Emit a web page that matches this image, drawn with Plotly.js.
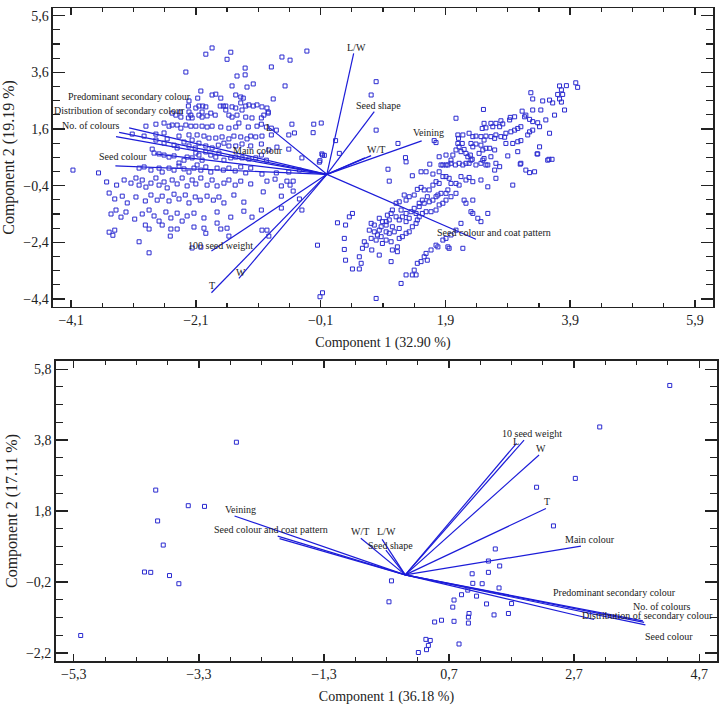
<!DOCTYPE html>
<html><head><meta charset="utf-8">
<script src="https://cdn.plot.ly/plotly-3.0.1.min.js"></script>
<style>html,body{margin:0;padding:0;background:#fff}</style>
</head><body>
<div id="chart" style="width:726px;height:714px"></div>
<script>
// ---------- Top biplot (Component 1 32.90 %, Component 2 19.19 %) ----------
const topAxisTitles = ["Component 1 (32.90 %)", "Component 2 (19.19 %)"];
const topVarNames = ["L/W","Seed shape","Veining","W/T","W/T (2)","Seed colour and coat pattern","100 seed weight","W","T","Seed colour","Predominant secondary colour","Distribution of secondary colour","No. of colours","Main colour","L"];
const topVarX = [0.43, 0.76, 1.52, 0.71, 0.61, 2.39, -1.85, -1.41, -1.85, -3.39, -3.17, -3.33, -3.38, -2.75, -0.91];
const topVarY = [4.27, 2.21, 1.18, 0.66, 0.58, -2.29, -2.71, -3.67, -4.18, 0.30, 1.64, 1.48, 1.33, 0.72, 1.63];

const topScores = [
[-1.84,4.46],[-1.94,4.24],[-1.54,4.31],[-1.60,4.06],[-0.32,4.35],[-0.72,4.14],[-0.59,4.03],[-0.89,3.79],[-1.31,3.75],[-2.26,3.61],[-1.44,3.47],[-1.31,3.51],[-1.52,3.12],[-1.18,3.19],[-1.28,3.08],[-0.67,3.12],[-2.02,2.94],[-1.84,2.80],[-1.78,2.83],[-1.70,2.69],[-2.07,2.69],[-2.21,2.59],[-1.46,2.80],[-1.38,2.73],[-1.34,2.69],[-0.86,2.66],
[-2.22,2.41],[-2.05,2.41],[-2.10,2.34],[-1.99,2.41],[-1.94,2.38],[-2.00,2.20],[-1.71,2.41],[-1.66,2.41],[-1.62,2.41],[-1.52,2.38],[-1.46,2.34],[-1.38,2.52],[-1.30,2.41],[-1.25,2.45],[-1.18,2.41],[-1.12,2.45],[-1.04,2.38],[-0.96,2.34],[-0.94,2.20],
[-2.35,2.20],[-2.34,2.02],[-2.42,2.09],[-2.48,2.16],[-2.21,2.20],[-2.18,2.09],[-2.22,1.99],[-2.16,1.99],[-2.05,2.09],[-2.00,2.02],[-1.92,2.06],[-1.86,2.16],[-1.79,2.09],[-1.62,2.27],[-1.57,2.09],[-1.52,2.02],[-1.44,2.09],[-1.36,2.27],[-1.30,2.02],[-1.20,1.99],[-1.05,1.99],[-1.01,2.09],[-0.94,2.16],
[-2.90,1.70],[-2.74,1.77],[-2.61,1.81],[-2.53,1.70],[-2.48,1.74],[-2.40,1.74],[-2.34,1.63],[-2.26,1.74],[-2.18,1.70],[-2.10,1.70],[-2.00,1.70],[-1.92,1.67],[-1.84,1.70],[-1.70,1.67],[-1.57,1.63],[-1.46,1.67],[-1.41,1.81],[-1.26,1.67],[-1.12,1.70],[-1.05,1.77],[-0.97,1.67],[-0.89,1.63],[-0.56,1.77],[-0.21,1.77],[-0.09,1.81],
[-3.12,1.42],[-2.93,1.35],[-2.74,1.42],[-2.61,1.46],[-2.56,1.25],[-2.37,1.35],[-2.21,1.39],[-2.16,1.21],[-2.08,1.39],[-1.97,1.35],[-1.89,1.28],[-1.78,1.28],[-1.68,1.32],[-1.57,1.25],[-1.49,1.35],[-1.38,1.32],[-1.28,1.25],[-1.22,1.35],[-1.14,1.32],[-1.04,1.35],[-0.81,1.56],[-0.89,1.39],[-0.61,1.39],[-0.52,1.46],
[-2.74,1.21],[-2.61,1.10],[-2.45,1.03],[-2.40,0.93],[-2.29,1.14],[-2.21,1.00],[-2.11,0.93],[-2.05,1.10],[-1.94,1.00],[-1.84,0.93],[-1.74,1.03],[-1.65,1.10],[-1.57,1.00],[-1.46,1.00],[-1.36,1.07],[-1.22,1.00],[-1.05,1.07],[-0.93,0.86],[-0.80,0.96],[-0.61,0.89],
[-2.80,0.89],[-2.77,0.75],[-2.69,0.72],[-2.61,0.68],[-2.53,0.61],[-2.45,0.65],[-2.37,0.40],[-2.29,0.50],[-2.24,0.61],[-2.16,0.58],[-2.10,0.75],[-2.05,0.68],[-2.00,0.50],[-1.94,0.79],[-1.86,0.68],[-1.78,0.61],[-1.73,0.75],[-1.65,0.50],[-1.54,0.58],[-1.46,0.61],[-1.36,0.58],[-1.25,0.54],[-1.14,0.58],[-1.05,0.68],[-0.97,0.50],[-0.40,0.58],[-0.07,0.68],[-0.12,0.43],
[-4.07,0.15],[-3.66,0.05],[-3.01,0.22],[-2.93,0.26],[-2.82,0.15],[-2.69,0.22],[-2.64,0.08],[-2.53,0.22],[-2.45,0.15],[-2.37,0.29],[-2.29,0.19],[-2.21,0.08],[-2.13,0.22],[-2.08,0.33],[-2.02,0.15],[-1.94,0.26],[-1.86,0.08],[-1.76,0.22],[-1.66,0.15],[-1.57,0.22],[-1.47,0.12],[-1.38,0.26],[-1.30,0.05],[-1.22,0.22],[-1.04,0.01],[-0.81,0.05],[-0.61,0.08],[-0.44,0.15],
[-3.53,-0.27],[-3.37,-0.38],[-3.25,-0.20],[-3.14,-0.31],[-3.06,-0.13],[-3.01,-0.38],[-2.96,-0.20],[-2.90,-0.45],[-2.82,-0.31],[-2.74,-0.13],[-2.69,-0.38],[-2.61,-0.27],[-2.56,-0.48],[-2.48,-0.20],[-2.40,-0.34],[-2.32,-0.13],[-2.24,-0.41],[-2.16,-0.20],[-2.10,-0.34],[-2.02,-0.13],[-1.92,-0.38],[-1.84,-0.20],[-1.76,-0.41],[-1.65,-0.31],[-1.57,-0.20],[-1.47,-0.38],[-1.38,-0.24],[-1.22,-0.34],[-0.96,-0.24],[-0.83,-0.17],[-0.73,-0.41],[-0.64,-0.24],[-0.59,-0.38],[-0.54,-0.24],
[-3.49,-0.66],[-3.40,-0.87],[-3.28,-0.77],[-3.20,-1.01],[-3.06,-0.80],[-2.91,-0.94],[-2.82,-0.73],[-2.72,-0.91],[-2.64,-0.77],[-2.53,-0.94],[-2.45,-0.70],[-2.37,-0.87],[-2.27,-0.73],[-2.21,-1.01],[-2.11,-0.80],[-2.03,-0.91],[-1.92,-0.77],[-1.82,-0.91],[-1.73,-0.80],[-1.65,-1.01],[-1.49,-0.73],[-1.33,-0.98],[-1.02,-0.62],[-0.73,-0.77],[-0.54,-0.59],[-0.44,-0.87],
[-3.46,-1.40],[-3.38,-1.26],[-3.30,-1.51],[-3.22,-1.33],[-3.08,-1.58],[-2.96,-1.40],[-2.85,-1.26],[-2.77,-1.47],[-2.69,-1.65],[-2.58,-1.33],[-2.50,-1.54],[-2.40,-1.37],[-2.32,-1.65],[-2.24,-1.47],[-2.13,-1.37],[-1.97,-1.54],[-1.76,-1.33],[-1.54,-1.51],[-1.33,-1.30],[-1.20,-1.51],[-1.05,-1.26],[-0.73,-1.19],[-0.40,-1.26],
[-3.49,-2.04],[-3.40,-1.97],[-3.43,-2.15],[-2.91,-1.79],[-2.85,-1.93],[-2.64,-1.79],[-2.50,-1.93],[-2.40,-1.93],[-2.13,-1.86],[-1.97,-1.90],[-1.76,-1.72],[-1.70,-1.93],[-1.60,-1.90],[-1.94,-2.08],[-1.57,-2.18],[-1.04,-1.97],[-0.96,-1.97],[-0.93,-2.18],[-2.51,-2.18],[-3.01,-2.38],[-2.85,-2.77],[-2.16,-2.60],[-2.02,-2.57],
[-0.15,-2.50],[-0.11,-4.32],[-0.07,-4.18],[-0.22,1.47],[0.14,1.19],[0.20,0.74],[-0.08,0.72],[-0.04,0.67],[-0.11,0.48],[0.79,3.27],[0.71,2.80],[0.79,1.56],[1.14,1.09],[1.26,0.59],[1.27,0.44],[0.79,-4.38],
[1.72,1.19],[1.75,1.12],[2.07,1.98],[2.51,2.29],[3.27,2.88],[3.73,3.12],[3.84,3.13],[3.76,2.98],[3.78,2.82],[3.70,2.82],[3.99,3.23],[4.02,3.07],[3.57,2.62],[3.73,2.66],[3.76,2.55],[3.62,2.52],[3.46,2.59],[3.30,2.66],[3.81,2.27],[3.65,2.09],[3.43,2.27],[3.30,2.27],[3.13,2.23],[3.19,2.09],[2.94,2.01],[3.01,2.03],[2.93,1.92],[2.79,1.89],[2.82,1.78],[2.77,1.68],[2.71,1.80],[2.63,1.80],[2.66,1.68],[2.52,1.80],[2.55,1.64],[2.49,1.62],[3.17,2.03],[3.25,1.94],[3.30,1.86],[3.38,1.82],[3.51,1.92],[3.41,1.68],[3.30,1.56],[3.25,1.50],[3.22,1.39],[3.11,1.68],[3.06,1.62],[3.01,1.56],[2.95,1.50],[2.87,1.45],[2.85,1.31],[2.79,1.33],[2.71,1.39],[2.69,1.27],[2.63,1.33],[2.55,1.35],[2.52,1.21],[2.47,1.33],[2.39,1.35],[2.34,1.33],[2.28,1.45],[2.31,1.09],[2.39,1.07],[2.47,1.03],[2.55,0.92],[2.61,0.92],[2.69,0.86],[2.87,1.09],[2.98,1.09],[3.06,1.15],[3.11,1.19],[3.41,0.97],[3.57,1.45],[3.56,0.53],[3.61,0.53],[3.37,0.72],[3.10,0.36],[2.90,0.65],[2.10,1.39],[2.11,1.27],[2.18,1.39],[2.17,1.09],[2.12,0.97],[2.07,0.86],[2.15,0.80],[2.20,0.88],[2.23,0.74],[2.26,0.62],[2.30,0.68],[2.33,0.53],[2.28,0.39],[2.23,0.39],[2.18,0.33],[2.12,0.39],[2.02,0.68],[1.99,0.39],[1.91,0.33],[1.83,0.33],[1.80,0.62],[1.91,0.68],[1.99,0.50],[2.10,1.09],[2.34,0.97],[2.44,0.74],[2.50,0.86],[2.52,0.56],[2.63,0.62],[2.71,0.39],[2.47,0.39],[2.39,0.33],[2.58,0.33],[2.77,0.27],
[0.98,0.18],[1.00,-0.24],[1.37,-0.05],[1.65,0.36],[1.51,0.09],[1.59,0.09],[1.70,0.01],[1.80,0.09],[1.86,0.33],[1.94,0.33],[2.06,0.33],[2.31,0.50],[2.50,0.50],[2.55,0.33],[2.69,0.15],[2.71,-0.14],[3.06,0.80],[3.11,0.39],[3.19,0.15],[3.25,0.06],[3.33,0.09],[3.38,0.72],[3.54,0.50],[2.98,-0.38],[2.58,-0.44],[2.47,-0.20],[2.34,-0.26],[2.28,-0.11],[2.23,-0.20],[2.15,-0.08],[2.12,-0.38],[2.07,-0.32],[1.99,-0.32],[1.96,-0.14],[1.91,-0.08],[1.86,-0.08],[1.80,-0.32],[1.75,-0.26],[1.70,-0.38],[1.64,-0.55],[1.56,-0.55],[1.51,-0.46],[1.45,-0.53],[1.40,-0.73],[1.32,-0.79],[1.27,-0.91],[1.24,-0.73],[1.16,-0.97],[1.11,-1.02],[1.05,-1.26],[1.03,-1.38],[0.97,-1.44],[1.00,-1.61],[0.95,-1.67],[0.87,-1.85],[0.84,-1.97],[0.76,-1.79],[0.71,-1.73],[0.68,-1.97],[0.71,-2.26],[0.79,-2.32],[0.87,-2.20],[0.89,-2.44],[0.95,-2.32],[1.03,-2.38],[1.05,-2.67],[1.13,-2.56],[1.16,-2.26],[1.21,-2.20],[1.27,-2.08],[1.32,-2.03],[1.37,-1.85],[1.43,-1.73],[1.45,-1.61],[1.48,-1.50],[1.53,-1.38],[1.59,-1.32],[1.67,-1.32],[1.75,-1.26],[1.80,-1.08],[1.86,-1.02],[1.91,-0.91],[1.99,-0.79],[2.07,-0.67],[2.20,-0.91],[2.23,-1.02],[2.34,-0.91],[2.31,-1.32],[2.34,-1.38],[2.42,-1.55],[2.47,-1.67],[2.58,-1.38],[2.15,-1.73],[2.07,-1.97],[1.99,-2.14],[1.91,-2.26],[1.86,-2.32],[1.75,-2.50],[1.78,-2.56],[1.67,-2.67],[1.59,-2.79],[1.56,-2.91],[1.61,-3.03],[1.51,-3.08],[1.45,-3.14],[1.40,-3.38],[1.43,-3.55],[1.37,-3.55],[1.27,-3.55],[1.19,-3.85],[1.13,-2.73],[1.03,-3.08],[0.84,-2.85],[0.72,-2.67],[0.63,-2.50],[0.57,-2.61],[0.52,-2.91],[0.55,-3.14],[0.41,-3.34],[0.52,-3.34],[0.30,-3.03],[0.28,-2.65],[0.28,-2.26],[0.30,-1.79],[0.17,-1.71],[0.36,-1.50],[0.41,-1.38],[0.84,-1.55],[0.89,-1.67],[0.95,-1.79],[1.05,-1.85],[1.16,-1.61],[1.21,-1.50],[1.27,-1.38],[1.35,-1.32],[1.40,-1.20],[1.48,-1.14],[1.56,-1.02],[1.64,-0.97],[1.70,-0.91],[1.75,-0.79],[1.78,-0.73],[1.83,-0.67],[1.91,-0.67],[1.94,-0.55],[1.61,-0.79],[1.53,-0.91],[1.48,-1.02],[2.18,-2.61],[1.94,-2.56],[1.96,-2.61],[1.11,-1.50],[1.16,-1.91],[1.27,-1.67],[1.32,-1.55],[1.19,-1.26],[1.43,-1.38],[1.00,-2.08],[1.08,-2.03],[0.95,-2.03],[0.81,-2.14],[0.76,-2.03],[0.60,-2.38]
];

// ---------- Bottom biplot (Component 1 36.18 %, Component 2 17.11 %) ----------
const botAxisTitles = ["Component 1 (36.18 %)", "Component 2 (17.11 %)"];
const botVarNames = ["Veining","Seed colour and coat pattern","Seed colour and coat pattern (2)","W/T","L/W","Seed shape","10 seed weight","L","W","T","Main colour","Seed colour","Predominant secondary colour","No. of colours","Distribution of secondary colour"];
const botVarX = [-2.73, -2.04, -2.01, -0.71, -0.37, -0.31, 1.90, 1.78, 2.14, 2.25, 2.81, 3.02, 3.80, 3.82, 3.84];
const botVarY = [1.66, 1.09, 1.02, 1.03, 1.00, 0.70, 3.80, 3.71, 3.38, 1.87, 0.81, -1.26, -1.30, -1.34, -1.41];

const botScores = [
[-2.70,3.74],[-3.99,2.39],[-3.47,1.95],[-3.21,1.93],[-3.96,1.52],[-3.87,0.84],[-4.17,0.08],[-4.07,0.07],[-3.77,-0.02],[-3.62,-0.25],[-5.19,-1.71],
[4.23,5.34],[3.11,4.17],[2.72,2.72],[2.10,2.47],[2.37,1.38],[1.44,0.73],[1.33,0.39],[1.51,0.25],[1.33,0.07],[1.07,0.03],[-0.22,-0.17],[1.08,-0.24],[1.23,-0.25],[1.50,-0.37],[1.00,-0.43],[0.90,-0.56],[1.14,-0.60],[0.78,-0.71],[1.30,-0.82],[1.70,-0.81],[-0.26,-0.76],[0.76,-0.91],[1.02,-1.09],[1.01,-1.19],[1.42,-1.13],[1.65,-1.09],[0.47,-1.33],[0.58,-1.28],[0.78,-1.31],[1.01,-1.36],[0.33,-1.82],[0.40,-1.85],[0.37,-1.99],[0.34,-2.11],[0.21,-2.19],[0.86,-1.95]
];

// ---------- label placement (layout only) ----------
const topLabelPos = {
  "L/W":[0.48,4.49], "Seed shape":[0.82,2.44], "Veining":[1.63,1.46], "W/T":[0.78,0.89],
  "Seed colour and coat pattern":[2.68,-2.06], "100 seed weight":[-1.70,-2.50], "W":[-1.37,-3.47], "T":[-1.84,-3.91],
  "Seed colour":[-3.27,0.64], "No. of colours":[-3.78,1.74], "Distribution of secondary colour":[-3.33,2.27],
  "Predominant secondary colour":[-3.16,2.74], "Main colour":[-1.11,0.83], "L":[-0.93,1.66]
};
const botLabelPos = {
  "Veining":[-2.63,1.85], "Seed colour and coat pattern":[-2.14,1.29], "W/T":[-0.73,1.21], "L/W":[-0.30,1.21],
  "Seed shape":[-0.23,0.84], "10 seed weight":[2.03,3.99], "L":[1.77,3.76], "W":[2.17,3.57], "T":[2.26,2.06],
  "Main colour":[2.95,1.00], "Predominant secondary colour":[3.34,-0.50], "No. of colours":[4.11,-0.90],
  "Distribution of secondary colour":[3.87,-1.15], "Seed colour":[4.22,-1.73]
};

const BLUE = '#1c1cd8';
const SERIF = '"Liberation Serif", "DejaVu Serif", serif';
const INK = '#222';

function vectorTrace(vx, vy, xa, ya) {
  const x = [], y = [];
  for (let i = 0; i < vx.length; i++) { x.push(0, vx[i], null); y.push(0, vy[i], null); }
  return {type:'scatter', mode:'lines', x, y, xaxis:xa, yaxis:ya, line:{color:BLUE, width:1.2}, hoverinfo:'skip', showlegend:false};
}
function scoreTrace(pts, xa, ya) {
  return {type:'scatter', mode:'markers', x:pts.map(p=>p[0]), y:pts.map(p=>p[1]), xaxis:xa, yaxis:ya,
    marker:{symbol:'square-open', size:4, color:'#2a2ad0', line:{width:1}}, hoverinfo:'skip', showlegend:false};
}
function axis(domain, range, tick0, titleText, standoff, isY) {
  return {
    domain, range, tick0, dtick:2, tickformat:'.1f', ticks:'inside', ticklen: isY ? 12 : 7, tickwidth:1.3,
    tickcolor:INK, showline:true, linecolor:INK, linewidth:1.5, mirror:'ticks', showgrid:false, zeroline:false,
    minor:{tick0, dtick:0.5, ticks:'inside', ticklen: isY ? 7 : 4, tickwidth:1.1, tickcolor:INK, showgrid:false},
    tickfont:{family:SERIF, size:14, color:INK},
    title:{text:titleText, font:{family:SERIF, size: isY ? 16 : 14, color:INK}, standoff},
    fixedrange:true
  };
}
function labels(pos, xref, yref) {
  return Object.keys(pos).map(k => ({x:pos[k][0], y:pos[k][1], xref, yref, text:k, showarrow:false,
    xanchor:'center', yanchor:'middle', font:{family:SERIF, size:10, color:INK}}));
}

const data = [
  vectorTrace(topVarX, topVarY, 'x', 'y'),
  scoreTrace(topScores, 'x', 'y'),
  vectorTrace(botVarX, botVarY, 'x2', 'y2'),
  scoreTrace(botScores, 'x2', 'y2')
];

const layout = {
  width:726, height:714, margin:{l:0, r:0, t:0, b:0}, paper_bgcolor:'#fff', plot_bgcolor:'#fff',
  separators:',.', showlegend:false,
  xaxis: axis([0.0730, 0.9821], [-4.39, 6.19], -4.1, topAxisTitles[0], 10, false),
  yaxis: axis([0.5705, 0.9884], [-4.67, 5.86], 5.6, topAxisTitles[1], 4, true),
  xaxis2: Object.assign(axis([0.0767, 0.9880], [-5.59, 4.99], -5.3, botAxisTitles[0], 10, false), {anchor:'y2'}),
  yaxis2: Object.assign(axis([0.0742, 0.4944], [-2.43, 6.03], 5.8, botAxisTitles[1], 4, true), {anchor:'x2'}),
  annotations: labels(topLabelPos, 'x', 'y').concat(labels(botLabelPos, 'x2', 'y2'))
};
layout.xaxis.anchor = 'y';
layout.yaxis.anchor = 'x';

Plotly.newPlot('chart', data, layout, {staticPlot:true, displayModeBar:false});
</script>
</body></html>
